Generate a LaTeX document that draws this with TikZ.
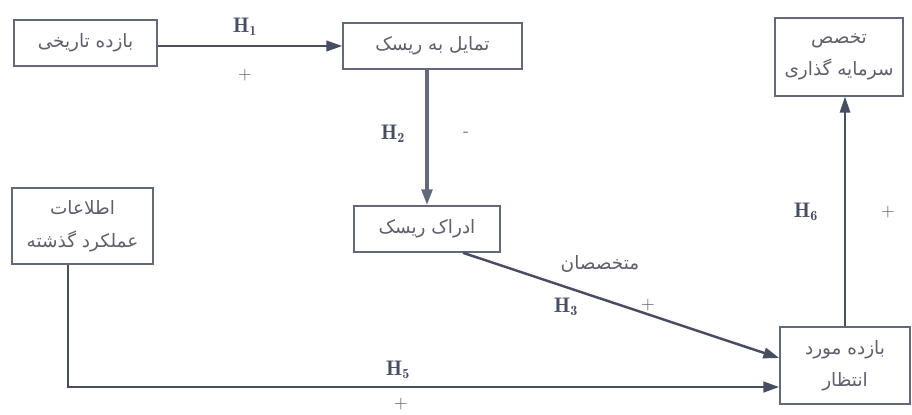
\documentclass[tikz,border=0pt]{standalone}
\usepackage{fontspec}
\newfontfamily\arabicfont[Script=Arabic]{DejaVu Sans}
\TeXXeTstate=1
\usetikzlibrary{positioning,arrows.meta,calc}
\definecolor{linegray}{RGB}{72,78,98}
\definecolor{textgray}{RGB}{95,95,108}

\tikzset{
  varbox/.style={draw=linegray!85, line width=0.9pt, fill=white, align=center,
    text=textgray, font=\arabicfont\fontsize{10.5}{12.5}\selectfont, inner sep=2pt},
  link/.style={draw=linegray, -{Triangle[length=9pt,width=6pt]}},
  hlabel/.style={text=linegray, font=\large},
  sign/.style={text=textgray, font=\normalsize}
}

\begin{document}
\begin{tikzpicture}[x=0.02cm, y=-0.02cm]

  % --- Canvas ---
  \useasboundingbox[fill=white] (0,0) rectangle (912,414);

  % --- Variables ---
  \node[varbox, minimum width=2.86cm, minimum height=0.92cm] (histret) at (85.5,43)
    {\beginR بازده تاریخی\endR};
  \node[varbox, minimum width=3.58cm, minimum height=0.92cm] (risktol) at (432.5,46)
    {\beginR تمایل به ریسک\endR};
  \node[varbox, minimum width=2.56cm, minimum height=1.56cm] (expert) at (839,57)
    {\beginR تخصص\endR\\[6pt]\beginR سرمایه گذاری\endR};
  \node[varbox, minimum width=2.82cm, minimum height=1.52cm] (pastinfo) at (82.5,226)
    {\beginR اطلاعات\endR\\[6pt]\beginR عملکرد گذشته\endR};
  \node[varbox, minimum width=2.92cm, minimum height=0.92cm] (riskperc) at (427,229)
    {\beginR ادراک ریسک\endR};
  \node[varbox, minimum width=2.6cm, minimum height=1.54cm] (expret) at (845,365.5)
    {\beginR بازده مورد\endR\\[6pt]\beginR انتظار\endR};

  % --- H1 ---
  \draw[link, line width=1.2pt] (histret.east |- risktol.west) -- (risktol.west);
  \node[hlabel] (h1) at (245,27) {$\mathbf{H_1}$};
  \node[sign] (s1) at (245,75) {+};

  % --- H2 ---
  \draw[link, line width=2pt, draw=linegray!85] (riskperc.north |- risktol.south) -- (riskperc.north);
  \node[hlabel] (h2) at (393,134) {$\mathbf{H_2}$};
  \node[sign] (s2) at (466,134) {-};

  % --- H3 ---
  \coordinate (h3start) at ($(riskperc.south)+(36,0)$);
  \coordinate (h3end) at ($(expret.west)+(0,-7.5)$);
  \draw[link, line width=1.4pt] (h3start) -- (h3end);
  \node[text=textgray, font=\arabicfont\fontsize{10.5}{12.5}\selectfont] (expertlbl) at (600,264)
    {\beginR متخصصان\endR};
  \node[hlabel] (h3) at (566,307) {$\mathbf{H_3}$};
  \node[sign] (s3) at (648,305) {+};

  % --- H5 ---
  \coordinate (h5bend) at ($(pastinfo.south)+(-14.5,0)$);
  \coordinate (h5end) at ($(expret.west)+(0,21.5)$);
  \draw[draw=linegray, line width=0.7pt] (h5bend) -- (h5bend |- h5end);
  \draw[link, line width=1.6pt] ([xshift=-0.35pt]h5bend |- h5end) -- (h5end);
  \node[hlabel] (h5) at (398,370) {$\mathbf{H_5}$};
  \node[sign] (s5) at (401,404) {+};

  % --- H6 ---
  \draw[link, line width=0.8pt] (expret.north) -- (expret.north |- expert.south);
  \node[hlabel] (h6) at (806,212) {$\mathbf{H_6}$};
  \node[sign] (s6) at (888,212) {+};

\end{tikzpicture}
\end{document}
